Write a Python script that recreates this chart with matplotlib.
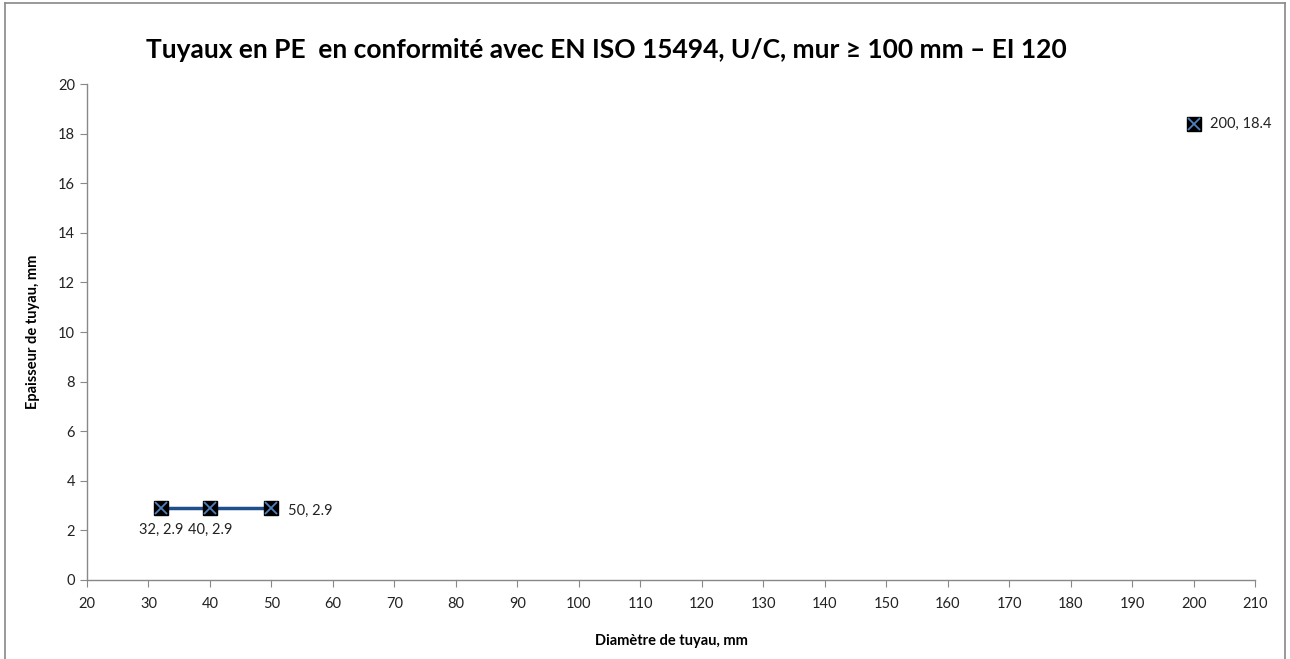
import matplotlib
matplotlib.use("Agg")
import matplotlib.pyplot as plt
from matplotlib.lines import Line2D

plt.rcParams['font.family'] = ['Lato', 'DejaVu Sans']

# Data
line_x = [32, 40, 50]
line_y = [2.9, 2.9, 2.9]
single_x = [200]
single_y = [18.4]
labels = ["32, 2.9", "40, 2.9", "50, 2.9"]
single_labels = ["200, 18.4"]
label_pos = ["below", "below", "right"]

x_ticks = list(range(20, 211, 10))
y_ticks = list(range(0, 21, 2))

title = "Tuyaux en PE  en conformité avec EN ISO 15494, U/C, mur \u2265 100 mm – EI 120"

fig = plt.figure(figsize=(12.9, 6.59), dpi=100)
ax = fig.add_axes([0.0674, 0.1199, 0.9056, 0.7526])

line_color = '#1F4E8C'
ax.plot(line_x, line_y, color=line_color, lw=2.5, zorder=2)
allx = line_x + single_x
ally = line_y + single_y
ax.plot(allx, ally, ls='none', marker='s', ms=10.5, mfc='black', mec='black', zorder=3)
ax.plot(allx, ally, ls='none', marker='x', ms=8.5, mew=1.3, color='#4F81BD', zorder=4)

for x, y, t, p in zip(line_x, line_y, labels, label_pos):
    if p == 'below':
        ax.annotate(t, (x, y), xytext=(0, -11), textcoords='offset points',
                    ha='center', va='top', fontsize=10.5, color='#222222')
    else:
        ax.annotate(t, (x, y), xytext=(12, -2), textcoords='offset points',
                    ha='left', va='center', fontsize=10.5, color='#222222')
for x, y, t in zip(single_x, single_y, single_labels):
    ax.annotate(t, (x, y), xytext=(12, 0), textcoords='offset points',
                ha='left', va='center', fontsize=10.5, color='#222222')

ax.set_xlim(20, 210)
ax.set_ylim(0, 20)
ax.set_xticks(x_ticks)
ax.set_yticks(y_ticks)
ax.tick_params(axis='both', direction='out', length=5, color='#888888',
               labelsize=10.5, labelcolor='#222222')
ax.tick_params(axis='x', pad=7)
for s in ['top', 'right']:
    ax.spines[s].set_visible(False)
for s in ['left', 'bottom']:
    ax.spines[s].set_color('#888888')
    ax.spines[s].set_linewidth(1)

ax.set_xlabel("Diamètre de tuyau, mm", fontsize=10.5, fontweight='bold', labelpad=17)
ax.set_ylabel("Epaisseur de tuyau, mm", fontsize=10.5, fontweight='bold', labelpad=13)

fig.text(0.4698, 0.924, title, ha='center', va='center', fontsize=19, fontweight='bold')

# chart-area border (bottom cropped)
for xs, ys in [([0.0035, 0.0035], [0, 0.9955]), ([0.0035, 0.996], [0.9955, 0.9955]), ([0.996, 0.996], [0, 0.9955])]:
    fig.add_artist(Line2D(xs, ys, color='#888888', lw=1.2, transform=fig.transFigure))

fig.savefig("out.png", dpi=100)
